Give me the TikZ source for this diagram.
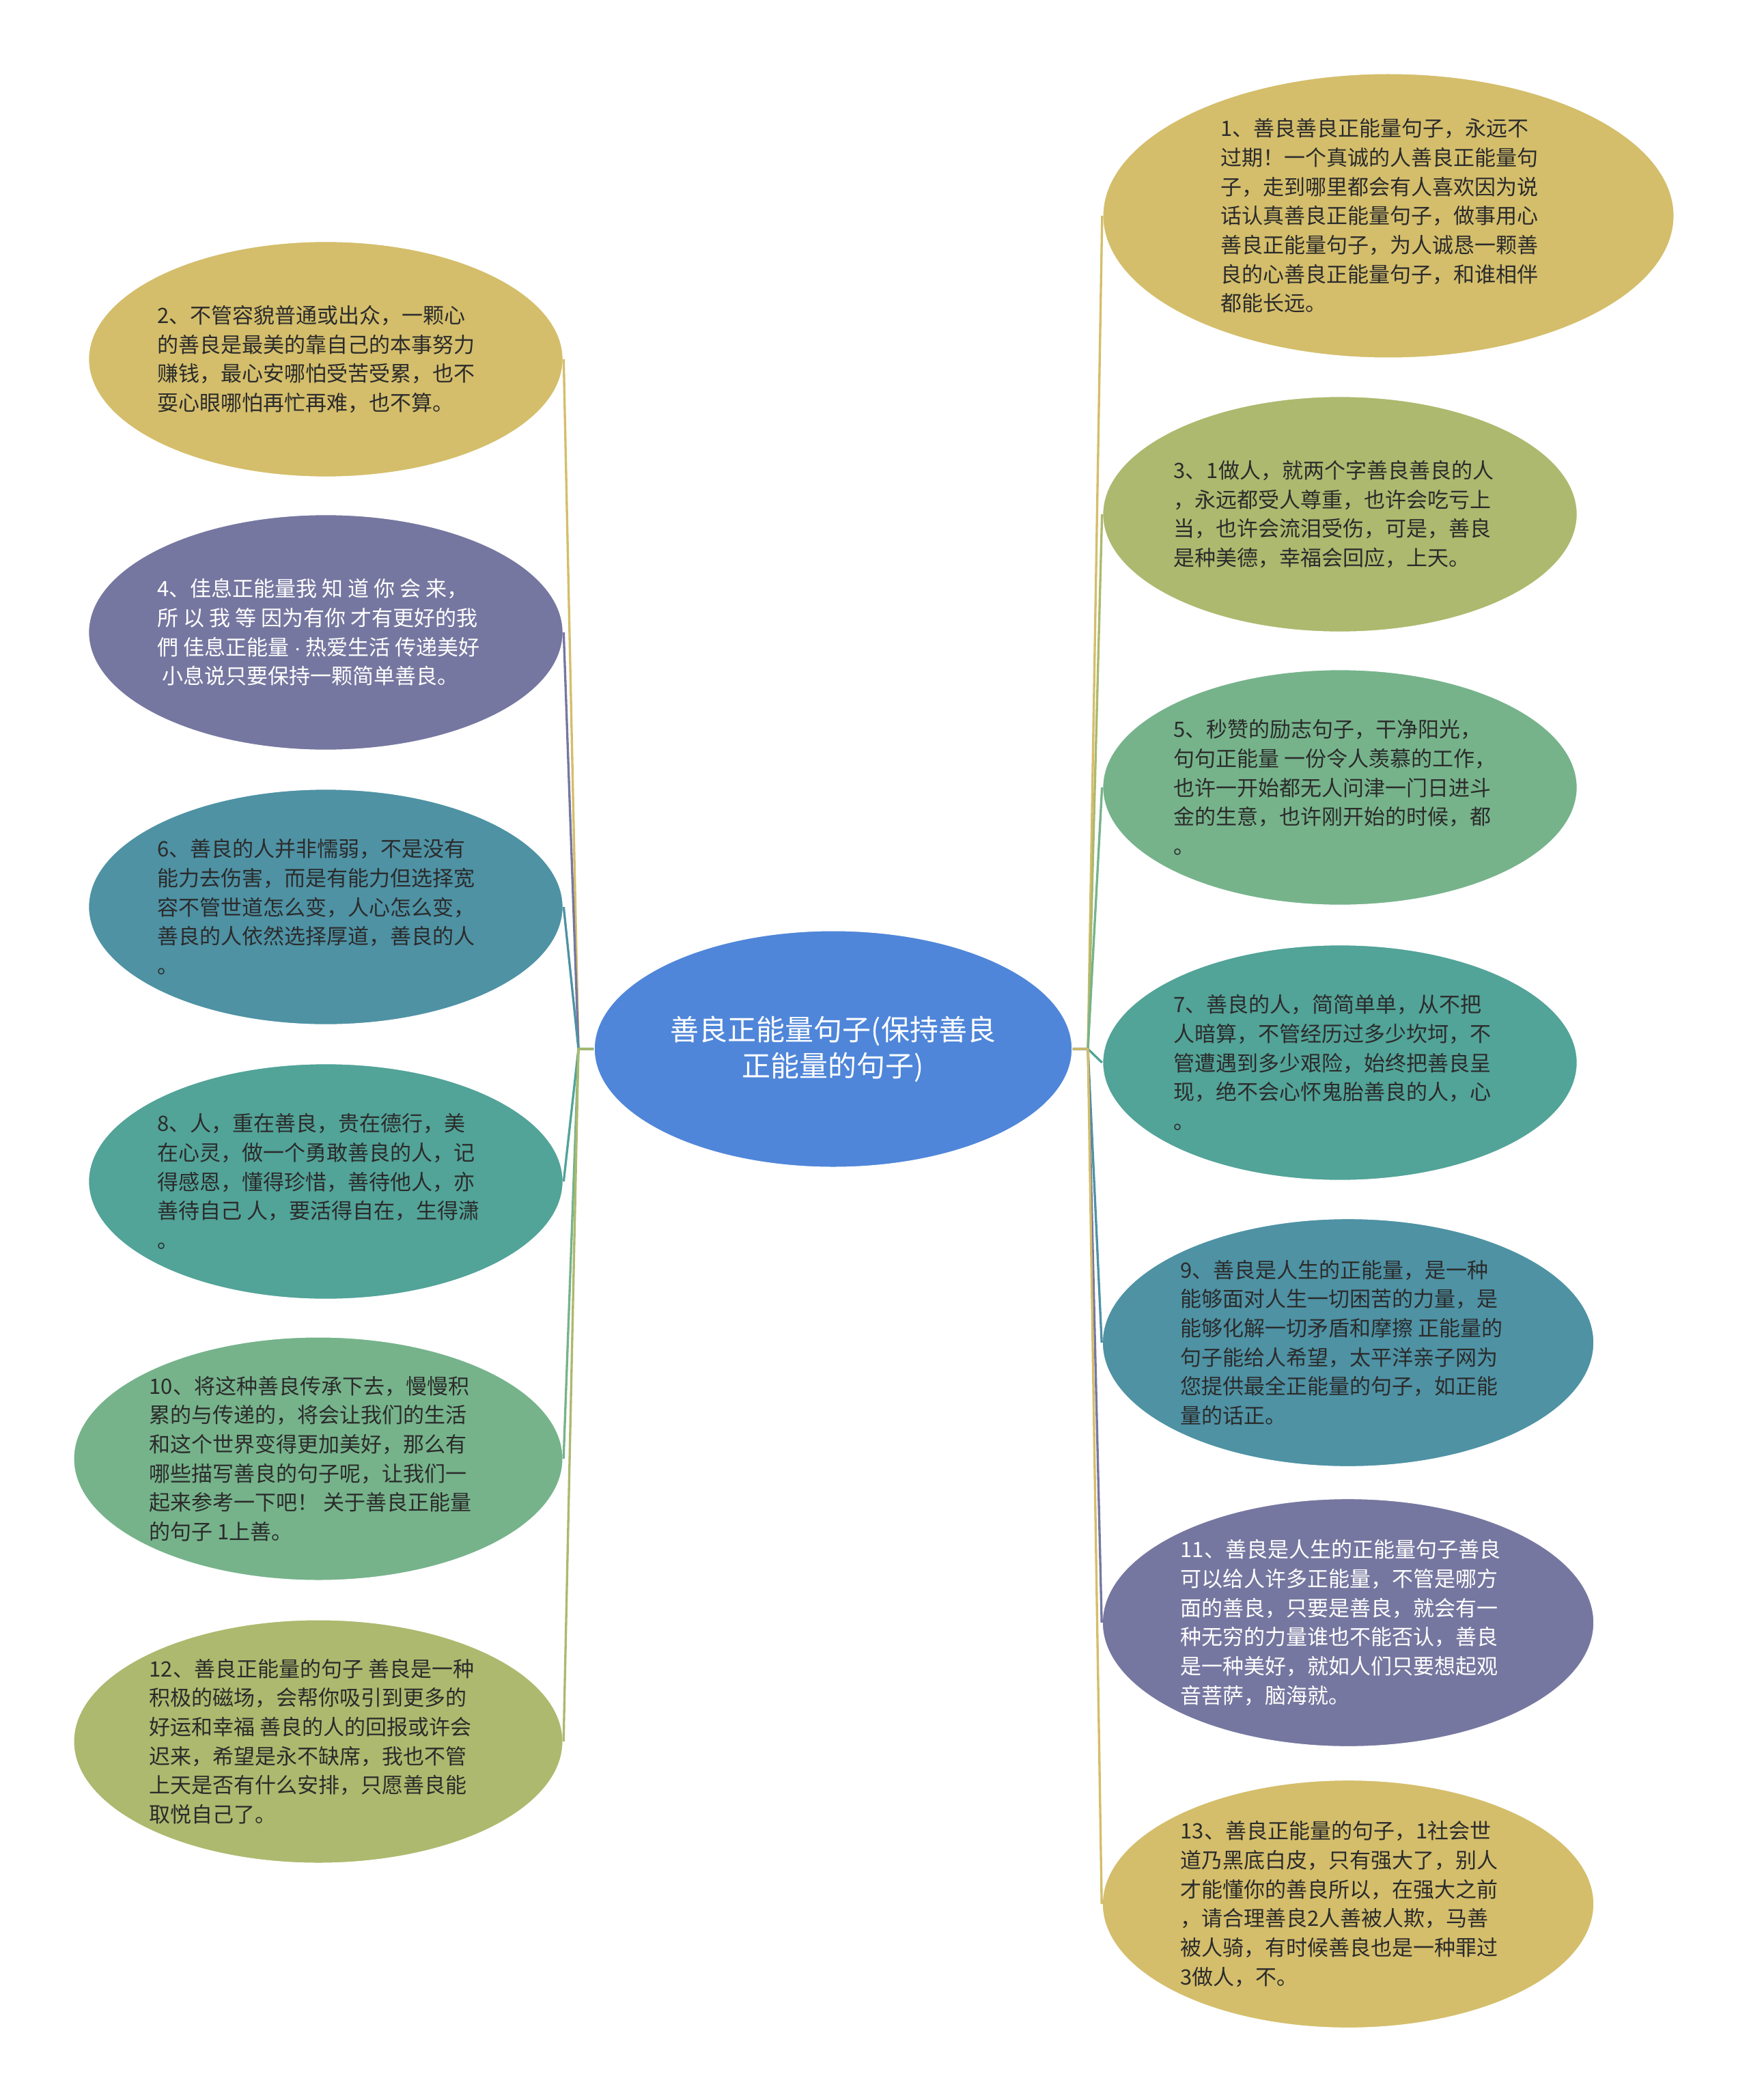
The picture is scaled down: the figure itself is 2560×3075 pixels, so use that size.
\documentclass[tikz,border=0pt]{standalone}
\usepackage{fontspec}
\newfontfamily\cjk{Noto Sans CJK SC}
\newfontfamily\lat{Liberation Sans}
\usetikzlibrary{shapes.geometric}
\definecolor{cgold}{HTML}{D4BE6B}
\definecolor{cpurple}{HTML}{7677A0}
\definecolor{ctealblue}{HTML}{4E92A4}
\definecolor{ctealgreen}{HTML}{52A398}
\definecolor{cgreen}{HTML}{76B38B}
\definecolor{colive}{HTML}{ADB96E}
\definecolor{cblue}{HTML}{4F86D9}
\definecolor{cdark}{HTML}{2B2B2B}
\tikzset{
  bub/.style={ellipse, draw=white, line width=0.5pt, inner sep=0pt},
  bubstd/.style={bub, minimum width=208.5pt, minimum height=103.5pt},
  bubwide/.style={bub, minimum width=215pt, minimum height=107pt},
  txt/.style={anchor=west, align=left, inner sep=0pt, text=cdark,
    font=\cjk\fontsize{9.3pt}{12.8pt}\selectfont},
  wtxt/.style={txt, text=white},
  link/.style={line width=1pt}
}
\begin{document}
\begin{tikzpicture}[x=0.3pt,y=-0.3pt]
\useasboundingbox (0,0) rectangle (2560,3075);
\fill[white] (0,0) rectangle (2560,3075);

\coordinate (jl) at (847,1536);
\coordinate (jr) at (1593,1536);

% bubbles
\node[bub, fill=cgold, minimum width=251pt, minimum height=125pt] (n1) at (2033,316) {};
\node[bubstd, fill=colive] (n3) at (1962,753) {};
\node[bubstd, fill=cgreen] (n5) at (1962,1153) {};
\node[bubstd, fill=ctealgreen] (n7) at (1962,1556) {};
\node[bubwide, fill=ctealblue, minimum width=216pt, minimum height=109pt] (n9) at (1974,1966) {};
\node[bubwide, fill=cpurple, minimum width=216pt, minimum height=109pt] (n11) at (1974,2376) {};
\node[bubwide, fill=cgold, minimum width=216pt, minimum height=109pt] (n13) at (1974,2788) {};

\node[bubstd, fill=cgold] (n2) at (477,526) {};
\node[bubstd, fill=cpurple] (n4) at (477,926) {};
\node[bubstd, fill=ctealblue] (n6) at (477,1328) {};
\node[bubstd, fill=ctealgreen] (n8) at (477,1730) {};
\node[bubwide, fill=cgreen] (n10) at (466,2136) {};
\node[bubwide, fill=colive] (n12) at (466,2550) {};

\node[bub, fill=cblue, minimum width=210pt, minimum height=104pt] (c) at (1220,1536) {};

% connectors
\draw[link, cgold] (c.west) -- (jl) -- (n2.east);
\draw[link, cpurple] (c.west) -- (jl) -- (n4.east);
\draw[link, ctealblue] (c.west) -- (jl) -- (n6.east);
\draw[link, ctealgreen] (c.west) -- (jl) -- (n8.east);
\draw[link, cgreen] (c.west) -- (jl) -- (n10.east);
\draw[link, colive] (c.west) -- (jl) -- (n12.east);

\draw[link, cgold] (c.east) -- (jr) -- (n1.west);
\draw[link, colive] (c.east) -- (jr) -- (n3.west);
\draw[link, cgreen] (c.east) -- (jr) -- (n5.west);
\draw[link, ctealgreen] (c.east) -- (jr) -- (n7.west);
\draw[link, ctealblue] (c.east) -- (jr) -- (n9.west);
\draw[link, cpurple] (c.east) -- (jr) -- (n11.west);
\draw[link, cgold] (c.east) -- (jr) -- (n13.west);

% center text
\node[align=center, inner sep=0pt, text=white, font=\cjk\fontsize{12.6pt}{16pt}\selectfont] (ct) at (c.center) {善良正能量句子(保持善良\\正能量的句子)};

% texts
\node[txt] (t1) at (1787,316) {1、善良善良正能量句子，永远不\\过期！一个真诚的人善良正能量句\\子，走到哪里都会有人喜欢因为说\\话认真善良正能量句子，做事用心\\善良正能量句子，为人诚恳一颗善\\良的心善良正能量句子，和谁相伴\\都能长远。};
\node[txt] (t3) at (1718,753) {3、1做人，就两个字善良善良的人\\，永远都受人尊重，也许会吃亏上\\当，也许会流泪受伤，可是，善良\\是种美德，幸福会回应，上天。};
\node[txt] (t5) at (1718,1153) {5、秒赞的励志句子，干净阳光，\\句句正能量 一份令人羡慕的工作，\\也许一开始都无人问津一门日进斗\\金的生意，也许刚开始的时候，都\\。};
\node[txt] (t7) at (1718,1556) {7、善良的人，简简单单，从不把\\人暗算，不管经历过多少坎坷，不\\管遭遇到多少艰险，始终把善良呈\\现，绝不会心怀鬼胎善良的人，心\\。};
\node[txt] (t9) at (1728,1966) {9、善良是人生的正能量，是一种\\能够面对人生一切困苦的力量，是\\能够化解一切矛盾和摩擦 正能量的\\句子能给人希望，太平洋亲子网为\\您提供最全正能量的句子，如正能\\量的话正。};
\node[wtxt] (t11) at (1728,2376) {11、善良是人生的正能量句子善良\\可以给人许多正能量，不管是哪方\\面的善良，只要是善良，就会有一\\种无穷的力量谁也不能否认，善良\\是一种美好，就如人们只要想起观\\音菩萨，脑海就。};
\node[txt] (t13) at (1728,2788) {13、善良正能量的句子，1社会世\\道乃黑底白皮，只有强大了，别人\\才能懂你的善良所以，在强大之前\\，请合理善良2人善被人欺，马善\\被人骑，有时候善良也是一种罪过\\3做人，不。};

\node[txt] (t2) at (230,526) {2、不管容貌普通或出众，一颗心\\的善良是最美的靠自己的本事努力\\赚钱，最心安哪怕受苦受累，也不\\耍心眼哪怕再忙再难，也不算。};
\node[wtxt] (t4) at (230,926) {4、佳息正能量我 知 道 你 会 来，\\所 以 我 等 因为有你 才有更好的我\\們 佳息正能量 {\lat ·} 热爱生活 传递美好\\\ 小息说只要保持一颗简单善良。};
\node[txt] (t6) at (230,1328) {6、善良的人并非懦弱，不是没有\\能力去伤害，而是有能力但选择宽\\容不管世道怎么变，人心怎么变，\\善良的人依然选择厚道，善良的人\\。};
\node[txt] (t8) at (230,1730) {8、人，重在善良，贵在德行，美\\在心灵，做一个勇敢善良的人，记\\得感恩，懂得珍惜，善待他人，亦\\善待自己 人，要活得自在，生得潇\\。};
\node[txt] (t10) at (218,2136) {10、将这种善良传承下去，慢慢积\\累的与传递的，将会让我们的生活\\和这个世界变得更加美好，那么有\\哪些描写善良的句子呢，让我们一\\起来参考一下吧！ 关于善良正能量\\的句子 1上善。};
\node[txt] (t12) at (218,2550) {12、善良正能量的句子 善良是一种\\积极的磁场，会帮你吸引到更多的\\好运和幸福 善良的人的回报或许会\\迟来，希望是永不缺席，我也不管\\上天是否有什么安排，只愿善良能\\取悦自己了。};
\end{tikzpicture}
\end{document}
